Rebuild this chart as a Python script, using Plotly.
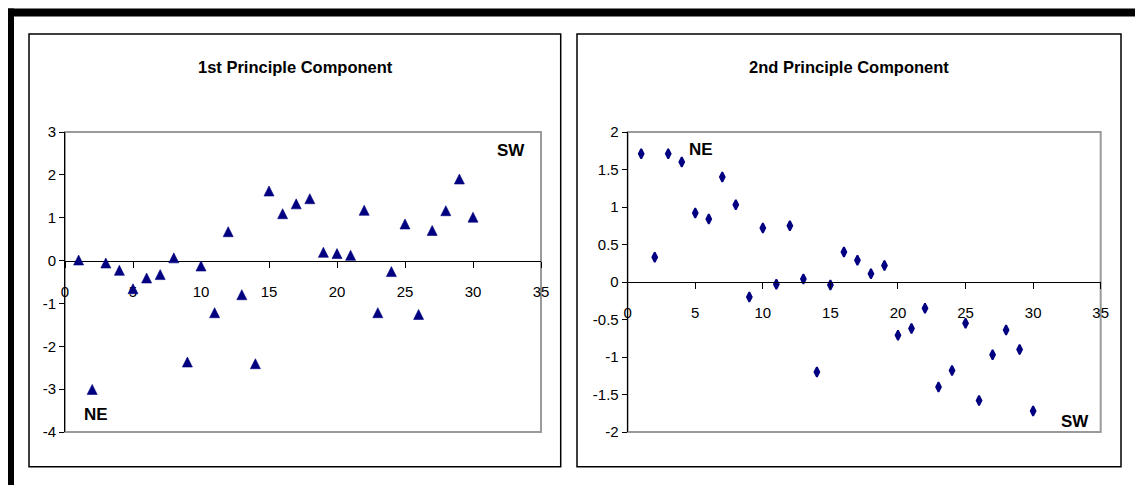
import plotly.graph_objects as go

# ---------------- data ----------------
obs_index = list(range(1, 31))
pc1_scores = [0.02, -3.0, -0.05, -0.22, -0.65, -0.40, -0.32, 0.07, -2.36, -0.12,
              -1.21, 0.68, -0.79, -2.40, 1.63, 1.10, 1.33, 1.45, 0.20, 0.17,
              0.13, 1.18, -1.21, -0.25, 0.86, -1.25, 0.71, 1.17, 1.91, 1.02]
pc2_scores = [1.71, 0.33, 1.71, 1.60, 0.92, 0.84, 1.40, 1.03, -0.20, 0.72,
              -0.03, 0.75, 0.04, -1.20, -0.04, 0.40, 0.29, 0.11, 0.22, -0.71,
              -0.62, -0.35, -1.40, -1.18, -0.55, -1.58, -0.97, -0.64, -0.90, -1.72]
x_tick_vals = [0, 5, 10, 15, 20, 25, 30, 35]
pc1_tick_vals = [-4, -3, -2, -1, 0, 1, 2, 3]
pc2_tick_vals = [-2, -1.5, -1, -0.5, 0, 0.5, 1, 1.5, 2]
chart_titles = ["1st Principle Component", "2nd Principle Component"]


def fmt(v):
    return "%g" % v  # ASCII hyphen for negatives


# The page body has an 8px default margin, so the figure is sized/offset to compensate.
OFF = 8
W, H = 1143 - OFF, 485 - OFF
NAVY = "#000080"
FONT = "Liberation Sans, Arial, sans-serif"


def px(x):
    return max(0.0, (x - OFF) / W)


def py(y):
    return min(1.0, 1 - (y - OFF) / H)


yb, yt = py(432), py(132)
y1_range = [-4, 3]
y2_range = [-2, 2]
pos1 = yb + (0 - y1_range[0]) / (y1_range[1] - y1_range[0]) * (yt - yb)
pos2 = yb + (0 - y2_range[0]) / (y2_range[1] - y2_range[0]) * (yt - yb)

TRI_SIZE = 10
tri_shift = 0.47 * TRI_SIZE / H  # centre the tip-anchored arrow marker on its value

fig = go.Figure()
# anchor trace so the visible left axis pair is created (draws nothing)
fig.add_trace(go.Scatter(x=[], y=[], mode="markers", xaxis="x", yaxis="y",
                         showlegend=False, hoverinfo="skip"))
fig.add_trace(go.Scatter(
    x=obs_index, y=pc1_scores, mode="markers", xaxis="x", yaxis="y3",
    marker=dict(symbol="arrow-up", size=TRI_SIZE, color=NAVY, line=dict(width=0.6, color=NAVY)),
    showlegend=False, cliponaxis=False))
fig.add_trace(go.Scatter(
    x=obs_index, y=pc2_scores, mode="markers", xaxis="x2", yaxis="y2",
    marker=dict(symbol="diamond-tall", size=7, color=NAVY, line=dict(width=1.8, color=NAVY)),
    showlegend=False, cliponaxis=False))

tick_font = dict(family=FONT, size=15, color="black")

common_x = dict(range=[0, 35], tickvals=x_tick_vals, ticktext=[fmt(v) for v in x_tick_vals],
                showline=True, linecolor="black", linewidth=1, ticks="outside", ticklen=6,
                tickcolor="black", showgrid=False, zeroline=False, tickfont=tick_font,
                anchor="free", ticklabelstandoff=11, automargin=False)
common_y = dict(showline=True, linecolor="black", linewidth=1, ticks="outside", ticklen=5,
                tickcolor="black", showgrid=False, zeroline=False, tickfont=tick_font,
                automargin=False)

fig.update_layout(
    template="none",
    width=W, height=H, margin=dict(l=0, r=0, t=0, b=0, pad=0),
    paper_bgcolor="white", plot_bgcolor="rgba(0,0,0,0)",
    xaxis=dict(domain=[px(65), px(541)], position=pos1, **common_x),
    yaxis=dict(domain=[yb, yt], range=y1_range, anchor="x",
               tickvals=pc1_tick_vals, ticktext=[fmt(v) for v in pc1_tick_vals], **common_y),
    yaxis3=dict(domain=[yb + tri_shift, yt + tri_shift], range=y1_range, anchor="x",
                visible=False, automargin=False, showgrid=False, zeroline=False),
    xaxis2=dict(domain=[px(627.7), px(1100.7)], position=pos2, **common_x),
    yaxis2=dict(domain=[yb, yt], range=y2_range, anchor="x2",
                tickvals=pc2_tick_vals, ticktext=[fmt(v) for v in pc2_tick_vals], **common_y),
)

shapes = []
# plot-area grey borders
for x0, x1 in [(65, 541), (627.7, 1100.7)]:
    shapes.append(dict(type="rect", xref="paper", yref="paper", x0=px(x0), x1=px(x1),
                       y0=yb, y1=yt, line=dict(color="#9a9a9a", width=2), layer="below"))
# chart boxes
for x0, x1 in [(29, 560.7), (577, 1121)]:
    shapes.append(dict(type="rect", xref="paper", yref="paper", x0=px(x0), x1=px(x1),
                       y0=py(466.7), y1=py(34), line=dict(color="black", width=1.5)))
# thick outer frame (top and left)
shapes.append(dict(type="rect", xref="paper", yref="paper", x0=px(6), x1=1.0,
                   y0=py(16.5), y1=py(8.5), fillcolor="black", line=dict(width=0)))
shapes.append(dict(type="rect", xref="paper", yref="paper", x0=px(6), x1=px(14),
                   y0=0, y1=py(8.5), fillcolor="black", line=dict(width=0)))
fig.update_layout(shapes=shapes)

annotations = []
for title, cx in zip(chart_titles, [295, 849]):
    annotations.append(dict(text=title, xref="paper", yref="paper", x=px(cx), y=py(67),
                            xanchor="center", yanchor="middle", showarrow=False,
                            font=dict(family=FONT, size=16.5, color="black", weight="bold")))
for lbl, cx, cy in [("NE", 95.5, 414.5), ("SW", 511, 150.7), ("NE", 700.7, 149.3), ("SW", 1075, 421.7)]:
    annotations.append(dict(text=lbl, xref="paper", yref="paper", x=px(cx), y=py(cy),
                            xanchor="center", yanchor="middle", showarrow=False,
                            font=dict(family=FONT, size=17, color="black", weight="bold")))
fig.update_layout(annotations=annotations)

fig.write_html("out.html")
